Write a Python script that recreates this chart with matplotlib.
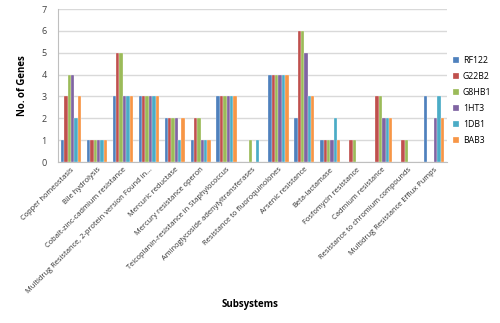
import numpy as np
import matplotlib
matplotlib.use('Agg')
import matplotlib.pyplot as plt

plt.rcParams['font.family'] = ['Open Sans', 'DejaVu Sans']

subsystems = ['Copper homeostasis', 'Bile hydrolysis', 'Cobalt-zinc-cadmium resistance',
              'Multidrug Resistance, 2-protein version Found in...', 'Mercuric reductase',
              'Mercury resistance operon', 'Teicoplanin-resistance in Staphylococcus',
              'Aminoglycoside adenylyltransferases', 'Resistance to fluoroquinolones',
              'Arsenic resistance', 'Beta-lactamase', 'Fosfomycin resistance',
              'Cadmium resistance', 'Resistance to chromium compounds',
              'Multidrug Resistance Efflux Pumps']

RF122 = [1, 1, 3, 3, 2, 1, 3, 0, 4, 2, 1, 0, 0, 0, 3]
G22B2 = [3, 1, 5, 3, 2, 2, 3, 0, 4, 6, 1, 1, 3, 1, 0]
G8HB1 = [4, 1, 5, 3, 2, 2, 3, 1, 4, 6, 1, 1, 3, 1, 0]
HT3 = [4, 1, 3, 3, 2, 1, 3, 0, 4, 5, 1, 0, 2, 0, 2]
DB1 = [2, 1, 3, 3, 1, 1, 3, 1, 4, 3, 2, 0, 2, 0, 3]
BAB3 = [3, 1, 3, 3, 2, 1, 3, 0, 4, 3, 1, 0, 2, 0, 2]

names = ['RF122', 'G22B2', 'G8HB1', '1HT3', '1DB1', 'BAB3']
series = [RF122, G22B2, G8HB1, HT3, DB1, BAB3]
colors = ['#4F81BD', '#C0504D', '#9BBB59', '#8064A2', '#4BACC6', '#F79646']

fig = plt.figure(figsize=(5, 3.23), dpi=100)
ax = fig.add_axes([58/500, 1 - 162/323, (447-58)/500, (162-9)/323])

x = np.arange(len(subsystems))
w = 0.13
for i, (name, vals, c) in enumerate(zip(names, series, colors)):
    ax.bar(x + (i - 2.5) * w, vals, width=w, color=c, label=name,
           edgecolor='white', linewidth=0.2, zorder=3)

ax.set_xlim(-0.5, len(subsystems) - 0.5)
ax.set_ylim(0, 7)
ax.set_yticks(range(8))
ax.yaxis.grid(True, color='#D9D9D9', linewidth=1, zorder=0)
ax.tick_params(axis='y', length=0, labelsize=6.5, colors='#404040', pad=8)
ax.tick_params(axis='x', length=0, pad=3)
ax.set_xticks(x)
ax.set_xticklabels(subsystems, rotation=45, ha='right', rotation_mode='anchor',
                   fontsize=5.4, color='#303030')
for s in ['top', 'right']:
    ax.spines[s].set_visible(False)
ax.spines['left'].set_color('#BFBFBF')
ax.spines['bottom'].set_color('#BFBFBF')

ax.set_ylabel('No. of Genes', fontsize=7, fontweight='bold', labelpad=10)
fig.text(0.5, 1 - 305/323, 'Subsystems', fontsize=7, fontweight='bold',
         ha='center', va='center')

ax.legend(loc='center left', bbox_to_anchor=(1.0, 0.40), frameon=False,
          fontsize=6.3, handlelength=0.7, handleheight=0.7, handletextpad=0.4,
          labelspacing=0.8, borderaxespad=0.3)

fig.savefig('out.png', dpi=100)
